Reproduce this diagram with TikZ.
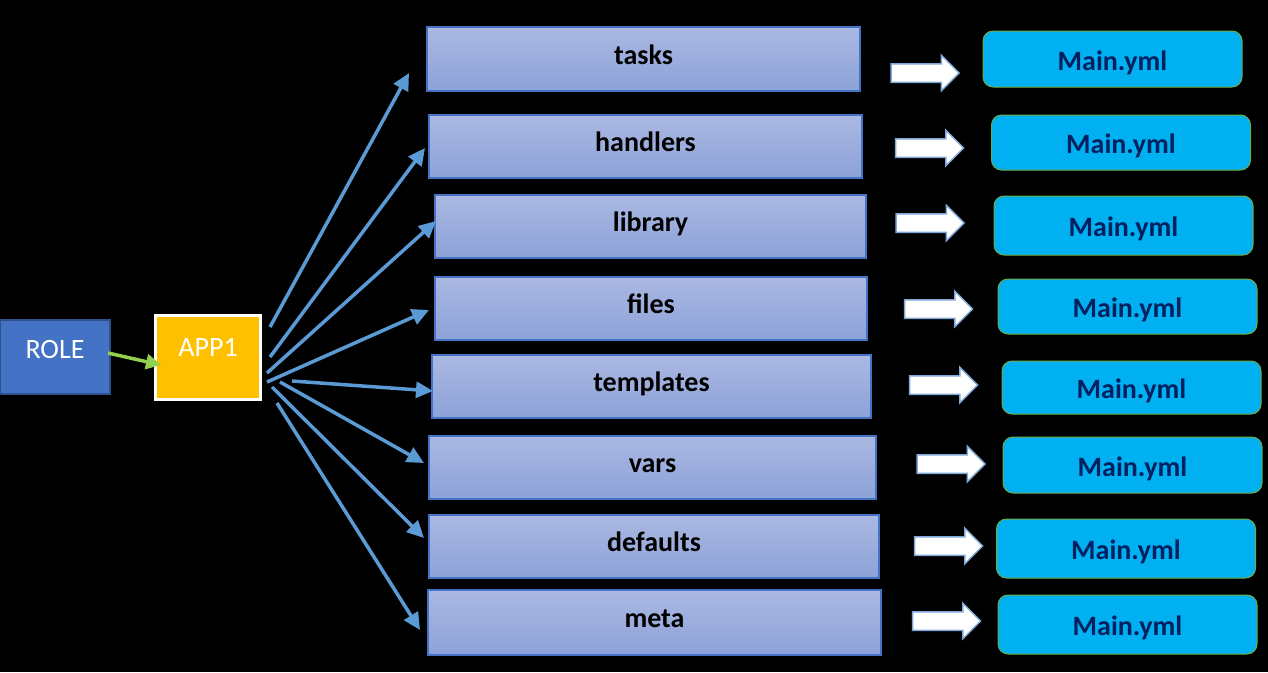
\documentclass[tikz,border=0pt]{standalone}
\usepackage{fontspec}
\setmainfont{Carlito}
\usetikzlibrary{shapes.arrows,arrows.meta}
\definecolor{dirtop}{HTML}{AAB8E2}
\definecolor{dirbot}{HTML}{8DA2D9}
\definecolor{dirborder}{HTML}{4472C4}
\definecolor{mainfill}{HTML}{00B0F0}
\definecolor{mainborder}{HTML}{70AD47}
\definecolor{maintext}{HTML}{002060}
\definecolor{fanblue}{HTML}{5B9BD5}
\definecolor{rolefill}{HTML}{4472C4}
\definecolor{roleborder}{HTML}{2F528F}
\definecolor{appfill}{HTML}{FFC000}
\definecolor{greenarrow}{HTML}{92D050}
\definecolor{arrowedge}{HTML}{7FA8D8}
\tikzset{
  dirbox/.style={rectangle, draw=dirborder, line width=1.2pt, top color=dirtop, bottom color=dirbot,
    font=\fontsize{28}{30}\selectfont\bfseries, text=black, text height=16pt, text depth=6pt, inner sep=0pt},
  mainbox/.style={rectangle, rounded corners=10pt, draw=mainborder, line width=1pt, fill=mainfill,
    font=\fontsize{28}{30}\selectfont\bfseries, text=maintext, text height=22pt, text depth=0pt,
    minimum width=259pt, inner sep=0pt},
  whitearrow/.style={single arrow, draw=arrowedge, line width=1.5pt, fill=white,
    inner xsep=0pt, inner ysep=8.5pt, text height=0pt, text depth=0pt,
    minimum height=68pt, single arrow head extend=8.5pt, single arrow head indent=0pt},
  fan/.style={draw=fanblue, line width=3.5pt, -{Triangle[length=17pt,width=16pt]}},
}
\begin{document}
\begin{tikzpicture}[x=1pt,y=-1pt]
\fill[black] (0,0) rectangle (1268,672);
\useasboundingbox (0,0) rectangle (1268,672);

% ROLE and APP1
\node[rectangle, draw=roleborder, line width=1.5pt, fill=rolefill, minimum width=110pt, minimum height=74pt,
  font=\fontsize{28}{30}\selectfont, text=white, text height=8pt, text depth=6pt, inner sep=0pt] (role) at (55,357) {ROLE};
\node[rectangle, draw=white, line width=3pt, fill=appfill, minimum width=105pt, minimum height=84pt, inner sep=0pt] (app) at (208,357.5) {};
\node[font=\fontsize{28}{30}\selectfont, text=white, inner sep=0pt] (applabel) at (208,347) {APP1};
\coordinate (g1) at (108,353);
\coordinate (g2) at (161,365);
\draw[draw=greenarrow, line width=3.5pt, -{Triangle[length=15pt,width=15pt]}] (g1) -- (g2);

% directory boxes
\node[dirbox, minimum width=433pt, minimum height=64pt] (tasks) at (643.5,59) {tasks};
\node[dirbox, minimum width=433pt, minimum height=63pt] (handlers) at (645.5,146.5) {handlers};
\node[dirbox, minimum width=431pt, minimum height=63pt] (library) at (650.5,226.5) {library};
\node[dirbox, minimum width=432pt, minimum height=63pt] (files) at (651,308.5) {files};
\node[dirbox, minimum width=439pt, minimum height=63pt] (templates) at (651.5,386.5) {templates};
\node[dirbox, minimum width=447pt, minimum height=63pt] (vars) at (652.5,467.5) {vars};
\node[dirbox, minimum width=450pt, minimum height=63pt] (defaults) at (654,546.5) {defaults};
\node[dirbox, minimum width=453pt, minimum height=65pt] (meta) at (654.5,622.5) {meta};

% Main.yml boxes
\node[mainbox, minimum height=56pt] (m1) at (1112.5,59) {Main.yml};
\node[mainbox, minimum height=55pt] (m2) at (1121,142.5) {Main.yml};
\node[mainbox, minimum height=59pt] (m3) at (1123.5,225.5) {Main.yml};
\node[mainbox, minimum height=55pt] (m4) at (1127.5,306.5) {Main.yml};
\node[mainbox, minimum height=53pt] (m5) at (1131.5,387.5) {Main.yml};
\node[mainbox, minimum height=56pt] (m6) at (1132.5,465) {Main.yml};
\node[mainbox, minimum height=59pt] (m7) at (1126,548.5) {Main.yml};
\node[mainbox, minimum height=59pt] (m8) at (1127.5,624.5) {Main.yml};

% white block arrows
\node[whitearrow] (w1) at (920.5,73) {};
\node[whitearrow] (w2) at (925,148) {};
\node[whitearrow] (w3) at (925.5,223) {};
\node[whitearrow] (w4) at (934,309) {};
\node[whitearrow] (w5) at (939,385) {};
\node[whitearrow] (w6) at (946.5,464) {};
\node[whitearrow] (w7) at (944,546) {};
\node[whitearrow] (w8) at (942,621) {};

% fan connectors
\coordinate (s1) at (270,327); \coordinate (e1) at (409,73);
\coordinate (s2) at (270,357); \coordinate (e2) at (425,148);
\coordinate (s3) at (267,373); \coordinate (e3) at (436,221);
\coordinate (s4) at (267,382); \coordinate (e4) at (429,310);
\coordinate (s5) at (292,381); \coordinate (e5) at (433,391);
\coordinate (s6) at (280,382); \coordinate (e6) at (424,463);
\coordinate (s7) at (272,387); \coordinate (e7) at (424,538);
\coordinate (s8) at (277,403); \coordinate (e8) at (420,630);
\foreach \i in {1,...,8} {\draw[fan] (s\i) -- (e\i);}
\end{tikzpicture}
\end{document}
